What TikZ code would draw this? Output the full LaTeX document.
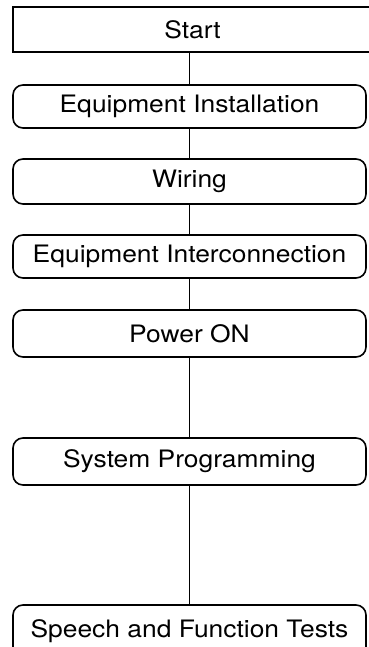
\documentclass[tikz,border=0pt]{standalone}
\usepackage{fontspec}
\setmainfont[FakeStretch=1.1]{TeX Gyre Heros}
\usetikzlibrary{positioning}

\begin{document}
\begin{tikzpicture}[
    x=1pt, y=1pt,
    stepbox/.style={draw, line width=1.6pt, rounded corners=10pt, minimum width=353pt, inner sep=0pt, font=\fontsize{24}{28}\selectfont},
    startbox/.style={draw, line width=1.6pt, minimum width=359pt, minimum height=45pt, inner sep=0pt, font=\fontsize{24}{28}\selectfont},
    flow/.style={line width=1.3pt}
]
    \useasboundingbox (0,0) rectangle (368,-647);
    % Steps
    \node[startbox] (start) at (192.5,-29.5) {Start};
    \node[stepbox, minimum height=43pt] (inst) at (189.5,-106.5) {Equipment Installation};
    \node[stepbox, minimum height=45pt] (wiring) at (189.5,-181.5) {Wiring};
    \node[stepbox, minimum height=43pt] (inter) at (189.5,-256.5) {Equipment Interconnection};
    \node[stepbox, minimum height=47pt] (power) at (189.5,-333.5) {Power ON};
    \node[stepbox, minimum height=47pt] (prog) at (189.5,-461.5) {System Programming};
    \node[stepbox, minimum height=52pt] (tests) at (189.5,-631) {Speech and Function Tests};

    % Flow
    \draw[flow] (inst.north |- start.south) -- (inst);
    \draw[flow] (inst) -- (wiring);
    \draw[flow] (wiring) -- (inter);
    \draw[flow] (inter) -- (power);
    \draw[flow] (power) -- (prog);
    \draw[flow] (prog) -- (tests);
\end{tikzpicture}
\end{document}
